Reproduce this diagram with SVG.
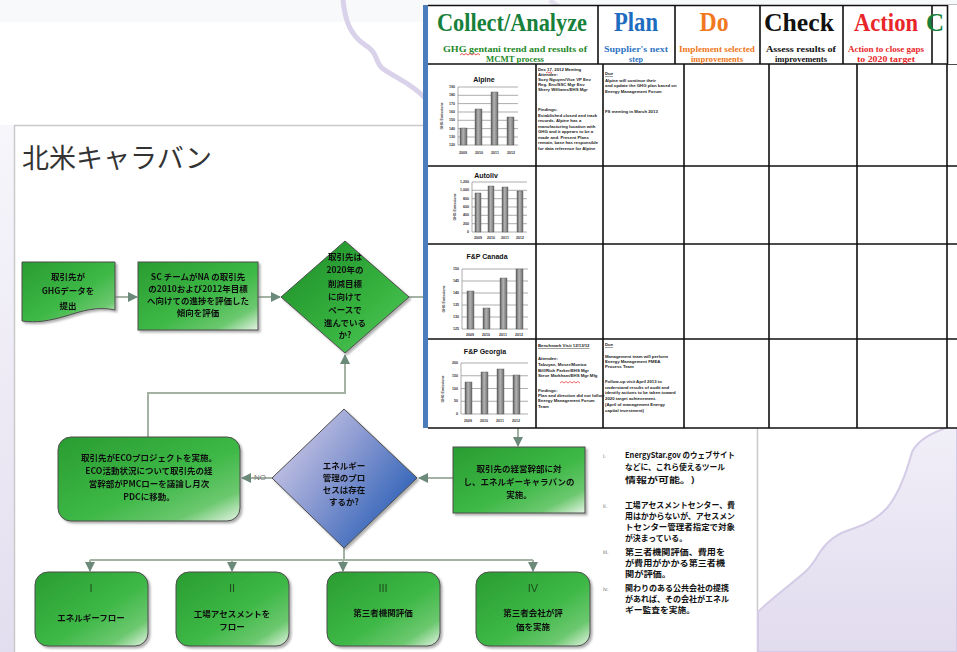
<svg xmlns="http://www.w3.org/2000/svg" width="957" height="652" viewBox="0 0 957 652">
  <defs>
    <style>
      .jp { font-family: "Noto Sans CJK JP", "Noto Sans", sans-serif; font-weight: 700; fill: #111; }
      .jpc { font-family: "Noto Sans CJK JP", "Noto Sans", sans-serif; font-weight: 700; fill: #111; text-anchor: middle; font-size: 8.5px; }
      .roman { font-family: "Liberation Sans", sans-serif; font-size: 11px; fill: #1b4d1b; text-anchor: middle; }
      .hdr { font-family: "Liberation Serif", serif; font-weight: 700; text-anchor: middle; }
      .sub { font-family: "Liberation Serif", serif; font-weight: 700; font-size: 8px; text-anchor: middle; }
      .cell { font-family: "Liberation Sans", sans-serif; font-size: 4.3px; font-weight: 700; fill: #222; }
      .ctitle { font-family: "Liberation Sans", sans-serif; font-size: 7px; font-weight: 700; fill: #111; text-anchor: middle; }
      .tick { font-family: "Liberation Sans", sans-serif; font-size: 3.6px; font-weight: 700; fill: #333; }
      .grid { stroke: #8a8a8a; stroke-width: 0.7; }
      .tbl { stroke: #111; stroke-width: 1.6; fill: none; }
      .conn { fill: none; stroke: #a3b2a3; stroke-width: 2; }
      .box { stroke: #4d4d4d; stroke-width: 1; }
      .bar { fill: url(#barFill); stroke: #555; stroke-width: 0.4; }
    </style>
    <linearGradient id="greenFill" x1="0" y1="0" x2="1" y2="1">
      <stop offset="0" stop-color="#2a9c31"/>
      <stop offset="0.55" stop-color="#3db846"/>
      <stop offset="0.82" stop-color="#6cc86f"/>
      <stop offset="1" stop-color="#e6f4e6"/>
    </linearGradient>
    <linearGradient id="greenDiamond" x1="0" y1="0" x2="1" y2="1">
      <stop offset="0" stop-color="#1e8c27"/>
      <stop offset="0.6" stop-color="#36b23f"/>
      <stop offset="1" stop-color="#57c95e"/>
    </linearGradient>
    <linearGradient id="blueDiamond" x1="0" y1="0.2" x2="1" y2="0.9">
      <stop offset="0" stop-color="#d2cde8"/>
      <stop offset="0.4" stop-color="#8c9bd2"/>
      <stop offset="1" stop-color="#1652b0"/>
    </linearGradient>
    <linearGradient id="barFill" x1="0" y1="0" x2="1" y2="0">
      <stop offset="0" stop-color="#5e5e5e"/>
      <stop offset="0.45" stop-color="#b4b4b4"/>
      <stop offset="1" stop-color="#6a6a6a"/>
    </linearGradient>
    <linearGradient id="lavender" x1="0" y1="0" x2="0" y2="1">
      <stop offset="0" stop-color="#f1eff8"/>
      <stop offset="1" stop-color="#e1dbee"/>
    </linearGradient>
    <linearGradient id="leftStrip" x1="0" y1="0" x2="0" y2="1">
      <stop offset="0" stop-color="#f7f6fb"/>
      <stop offset="1" stop-color="#e3deef"/>
    </linearGradient>
    <marker id="arr" viewBox="0 0 10 10" refX="9" refY="5" markerWidth="5" markerHeight="5" orient="auto">
      <path d="M0,0 L10,5 L0,10 Z" fill="#6c8a7a"/>
    </marker>
    <filter id="shadow" x="-10%" y="-10%" width="130%" height="130%">
      <feDropShadow dx="2" dy="2" stdDeviation="1.2" flood-color="#7a7a7a" flood-opacity="0.6"/>
    </filter>
  </defs>

  <!-- backdrop -->
  <rect width="957" height="652" fill="#ffffff"/>
  <rect x="0" y="0" width="957" height="22" fill="#f8f9fb"/>
  <rect x="0" y="125" width="15" height="527" fill="url(#leftStrip)"/>
  <path d="M343,0 C345,20 350,35 365,45 C378,52 375,62 382,68 C395,78 410,82 425,98" fill="none" stroke="#d9d2ea" stroke-width="5"/>
  <path d="M550,0 C556,6 564,10 575,14" fill="none" stroke="#d9d2ea" stroke-width="5" opacity="0.6"/>

  <!-- flowchart sheet -->
  <g id="sheet">
    <rect x="14.5" y="125.5" width="743" height="540" fill="#ffffff" stroke="#c9c9c9" stroke-width="1.5"/>
    <text x="22" y="168" font-family="Noto Sans CJK JP, sans-serif" font-size="27" fill="#333">北米キャラバン</text>
  </g>

  <!-- lower-right backdrop curve -->
  <path d="M758,612 C765,604 790,585 805,572 C812,566 815,560 820,552 C828,540 838,533 852,529 C865,525 878,518 887,508 C897,496 905,478 912,452 C918,440 930,433 957,424 L957,652 L758,652 Z" fill="url(#lavender)" stroke="#d4cbe6" stroke-width="2"/>

  <!-- connectors -->
  <g id="connectors">
    <path class="conn" d="M115,297 H137" marker-end="url(#arr)"/>
    <path class="conn" d="M258,297 H280" marker-end="url(#arr)"/>
    <path class="conn" d="M409,297 H430"/>
    <path class="conn" d="M148,437 V393 H345 V355" marker-end="url(#arr)"/>
    <path class="conn" d="M272,478 H242" marker-end="url(#arr)"/>
    <path class="conn" d="M453,478 H419" marker-end="url(#arr)"/>
    <path class="conn" d="M518,426 V446" marker-end="url(#arr)"/>
    <path class="conn" d="M344,548 V560 M90,560 H533"/>
    <path class="conn" d="M90,560 V571" marker-end="url(#arr)"/>
    <path class="conn" d="M232,560 V571" marker-end="url(#arr)"/>
    <path class="conn" d="M343,560 V571" marker-end="url(#arr)"/>
    <path class="conn" d="M533,560 V571" marker-end="url(#arr)"/>
    <text x="260" y="480" font-family="Liberation Sans, sans-serif" font-size="8" fill="#777" text-anchor="middle">NO</text>
  </g>

  <!-- flowchart nodes -->
  <g id="node-submit" filter="url(#shadow)">
    <path class="box" d="M22,262 H115 V310 C97,306 82,311 66,316 C49,321 36,323 22,321 Z" fill="url(#greenFill)"/>
    <text class="jpc" x="68" y="280">取引先が</text>
    <text class="jpc" x="68" y="294">GHGデータを</text>
    <text class="jpc" x="68" y="309">提出</text>
  </g>

  <g id="node-evaluate" filter="url(#shadow)">
    <rect class="box" x="138" y="262" width="120" height="68" fill="url(#greenFill)"/>
    <text class="jpc" x="198" y="280" font-size="7.5">SC チームがNA の取引先</text>
    <text class="jpc" x="198" y="292" font-size="7.5">の2010および2012年目標</text>
    <text class="jpc" x="198" y="304" font-size="7.5">へ向けての進捗を評価した</text>
    <text class="jpc" x="198" y="316" font-size="7.5">傾向を評価</text>
  </g>

  <g id="node-on-pace" filter="url(#shadow)">
    <polygon class="box" points="345,241 409,297 345,353 281,297" fill="url(#greenDiamond)"/>
    <text class="jpc" x="345" y="260" font-size="8.5">取引先は</text>
    <text class="jpc" x="345" y="273" font-size="8.5">2020年の</text>
    <text class="jpc" x="345" y="287" font-size="8.5">削減目標</text>
    <text class="jpc" x="345" y="300" font-size="8.5">に向けて</text>
    <text class="jpc" x="345" y="313" font-size="8.5">ペースで</text>
    <text class="jpc" x="345" y="326" font-size="8.5">進んでいる</text>
    <text class="jpc" x="345" y="338" font-size="8.5">か?</text>
  </g>

  <g id="node-eco-project" filter="url(#shadow)">
    <rect class="box" x="58" y="437" width="182" height="84" rx="13" fill="url(#greenFill)"/>
    <text class="jpc" x="149" y="461" font-size="8">取引先がECOプロジェクトを実施。</text>
    <text class="jpc" x="149" y="474" font-size="8">ECO活動状況について取引先の経</text>
    <text class="jpc" x="149" y="487" font-size="8">営幹部がPMCローを議論し月次</text>
    <text class="jpc" x="149" y="500" font-size="8">PDCに移動。</text>
  </g>

  <g id="node-energy-mgmt" filter="url(#shadow)">
    <polygon class="box" points="344,409 417,478 344,548 272,478" fill="url(#blueDiamond)"/>
    <text class="jpc" x="344" y="469" font-size="8.5">エネルギー</text>
    <text class="jpc" x="344" y="481" font-size="8.5">管理のプロ</text>
    <text class="jpc" x="344" y="493" font-size="8.5">セスは存在</text>
    <text class="jpc" x="344" y="505" font-size="8.5">するか?</text>
  </g>

  <g id="node-caravan" filter="url(#shadow)">
    <rect class="box" x="453" y="447" width="132" height="66" fill="url(#greenFill)"/>
    <text class="jpc" x="519" y="472" font-size="8">取引先の経営幹部に対</text>
    <text class="jpc" x="519" y="485" font-size="8">し、エネルギーキャラバンの</text>
    <text class="jpc" x="519" y="498" font-size="8">実施。</text>
  </g>

  <g id="node-i" filter="url(#shadow)">
    <rect class="box" x="35" y="572" width="113" height="74" rx="13" fill="url(#greenFill)"/>
    <text class="roman" x="91" y="592">I</text>
    <text class="jpc" x="91" y="621" font-size="8">エネルギーフロー</text>
  </g>
  <g id="node-ii" filter="url(#shadow)">
    <rect class="box" x="176" y="572" width="113" height="74" rx="13" fill="url(#greenFill)"/>
    <text class="roman" x="232" y="592">II</text>
    <text class="jpc" x="232" y="617" font-size="8">工場アセスメントを</text>
    <text class="jpc" x="232" y="630" font-size="8">フロー</text>
  </g>
  <g id="node-iii" filter="url(#shadow)">
    <rect class="box" x="327" y="572" width="113" height="74" rx="13" fill="url(#greenFill)"/>
    <text class="roman" x="383" y="592">III</text>
    <text class="jpc" x="383" y="616" font-size="8">第三者機関評価</text>
  </g>
  <g id="node-iv" filter="url(#shadow)">
    <rect class="box" x="476" y="572" width="114" height="74" rx="13" fill="url(#greenFill)"/>
    <text class="roman" x="533" y="592">IV</text>
    <text class="jpc" x="533" y="616" font-size="8">第三者会社が評</text>
    <text class="jpc" x="533" y="630" font-size="8">価を実施</text>
  </g>

  <!-- side notes -->
  <g id="notes" font-family="Liberation Sans, sans-serif">
    <text x="603" y="458" font-size="6" fill="#777">i.</text>
    <text x="603" y="508" font-size="6" fill="#777">ii.</text>
    <text x="603" y="554" font-size="6" fill="#777">iii.</text>
    <text x="603" y="591" font-size="6" fill="#777">iv.</text>
    <text class="jp" x="625" y="458" font-size="8" textLength="110" lengthAdjust="spacingAndGlyphs">EnergyStar.gov のウェブサイト</text>
    <text class="jp" x="625" y="470" font-size="8" textLength="100" lengthAdjust="spacingAndGlyphs">などに、これら使えるツール</text>
    <text class="jp" x="625" y="483" font-size="8" textLength="70" lengthAdjust="spacingAndGlyphs">情報が可能。)</text>
    <text class="jp" x="625" y="508" font-size="8" textLength="110" lengthAdjust="spacingAndGlyphs">工場アセスメントセンター、費</text>
    <text class="jp" x="625" y="519" font-size="8" textLength="110" lengthAdjust="spacingAndGlyphs">用はかからないが、アセスメン</text>
    <text class="jp" x="625" y="530" font-size="8" textLength="110" lengthAdjust="spacingAndGlyphs">トセンター管理者指定で対象</text>
    <text class="jp" x="625" y="541" font-size="8" textLength="62" lengthAdjust="spacingAndGlyphs">が決まっている。</text>
    <text class="jp" x="625" y="555" font-size="8" textLength="100" lengthAdjust="spacingAndGlyphs">第三者機関評価、費用を</text>
    <text class="jp" x="625" y="566" font-size="8" textLength="100" lengthAdjust="spacingAndGlyphs">が費用がかかる第三者機</text>
    <text class="jp" x="625" y="577" font-size="8" textLength="46" lengthAdjust="spacingAndGlyphs">関が評価。</text>
    <text class="jp" x="625" y="591" font-size="8" textLength="104" lengthAdjust="spacingAndGlyphs">関わりのある公共会社の提携</text>
    <text class="jp" x="625" y="602" font-size="8" textLength="104" lengthAdjust="spacingAndGlyphs">があれば、その会社がエネル</text>
    <text class="jp" x="625" y="613" font-size="8" textLength="70" lengthAdjust="spacingAndGlyphs">ギー監査を実施。</text>
  </g>

  <!-- PDCA supplier table -->
  <g id="pdca-table">
    <rect x="424" y="5" width="533" height="423" fill="#ffffff"/>
    <rect x="423" y="5" width="5" height="423" fill="#4d7cbc"/>
    <!-- rules -->
    <path class="tbl" d="M428,5.5 H957 M428,64 H957 M428,166 H957 M428,244 H957 M428,339 H957 M428,428 H957"/>
    <path class="tbl" d="M598,5 V64 M675,5 V64 M760,5 V64 M843,5 V64 M932,5 V64"/>
    <path class="tbl" d="M536,64 V428 M603,64 V428 M684,64 V428 M769,64 V428 M857,64 V428 M947,64 V428"/>

    <!-- headings -->
    <text class="hdr" x="512" y="31" font-size="26" fill="#17803a" textLength="150" lengthAdjust="spacingAndGlyphs">Collect/Analyze</text>
    <text class="sub" x="515" y="52" fill="#1f8a2a" textLength="144" lengthAdjust="spacingAndGlyphs">GHG gentani trend and results of</text>
    <path d="M460,55 l2,-1.5 l2,1.5 l2,-1.5 l2,1.5 l2,-1.5 l2,1.5 l2,-1.5 l2,1.5 l2,-1.5 l2,1.5" fill="none" stroke="#e0282a" stroke-width="0.8"/>
    <text class="sub" x="515" y="62" fill="#1f8a2a" textLength="58" lengthAdjust="spacingAndGlyphs">MCMT process</text>

    <text class="hdr" x="636" y="31" font-size="27" fill="#1e6cc0" textLength="44" lengthAdjust="spacingAndGlyphs">Plan</text>
    <text class="sub" x="636" y="52" fill="#2f74c4" textLength="64" lengthAdjust="spacingAndGlyphs">Supplier's next</text>
    <text class="sub" x="636" y="62" fill="#2f74c4">step</text>

    <text class="hdr" x="714" y="31" font-size="27" fill="#f07820" textLength="29" lengthAdjust="spacingAndGlyphs">Do</text>
    <text class="sub" x="717" y="52" fill="#f07820" textLength="76" lengthAdjust="spacingAndGlyphs">Implement selected</text>
    <text class="sub" x="717" y="62" fill="#f07820" textLength="52" lengthAdjust="spacingAndGlyphs">improvements</text>

    <text class="hdr" x="799" y="31" font-size="25" fill="#111" textLength="70" lengthAdjust="spacingAndGlyphs">Check</text>
    <text class="sub" x="801" y="52" fill="#111" textLength="70" lengthAdjust="spacingAndGlyphs">Assess results of</text>
    <text class="sub" x="801" y="62" fill="#111" textLength="52" lengthAdjust="spacingAndGlyphs">improvements</text>

    <text class="hdr" x="886" y="31" font-size="25" fill="#e8262a" textLength="64" lengthAdjust="spacingAndGlyphs">Action</text>
    <text class="sub" x="886" y="52" fill="#e8262a" textLength="76" lengthAdjust="spacingAndGlyphs">Action to close gaps</text>
    <text class="sub" x="886" y="62" fill="#e8262a" textLength="58" lengthAdjust="spacingAndGlyphs">to 2020 target</text>

    <text class="hdr" x="935" y="31" font-size="25" fill="#17803a" text-anchor="start">C</text>
    <rect x="948" y="5" width="9" height="59" fill="#ffffff"/>
    <path class="tbl" d="M947.5,5 V64"/>

    <!-- Alpine chart -->
    <text class="ctitle" x="484" y="82">Alpine</text>
    <g class="grid">
      <path d="M458,87 H518 M458,95.3 H518 M458,103.6 H518 M458,112 H518 M458,120.3 H518 M458,128.6 H518 M458,137 H518 M458,145 H518 M458,87 V145"/>
    </g>
    <g class="tick" text-anchor="end">
      <text x="455" y="88">190</text><text x="455" y="96.3">180</text><text x="455" y="104.6">170</text><text x="455" y="113">160</text>
      <text x="455" y="121.3">150</text><text x="455" y="129.6">140</text><text x="455" y="138">130</text><text x="455" y="146">120</text>
    </g>
    <rect class="bar" x="460" y="128" width="7" height="17"/>
    <rect class="bar" x="475" y="109" width="7" height="36"/>
    <rect class="bar" x="491" y="92" width="7" height="53"/>
    <rect class="bar" x="507" y="117" width="7" height="28"/>
    <g class="tick" text-anchor="middle">
      <text x="463" y="154">2009</text><text x="479" y="154">2010</text><text x="495" y="154">2011</text><text x="511" y="154">2012</text>
    </g>
    <text class="tick" transform="translate(443,116) rotate(-90)" text-anchor="middle">GHG Emissions</text>

    <!-- Autoliv chart -->
    <text class="ctitle" x="486" y="178">Autoliv</text>
    <g class="grid">
      <path d="M472,182 H527 M472,190.3 H527 M472,198.7 H527 M472,207 H527 M472,215.3 H527 M472,223.7 H527 M472,232 H527 M472,182 V232"/>
    </g>
    <g class="tick" text-anchor="end">
      <text x="469" y="183">1,200</text><text x="469" y="191.3">1,000</text><text x="469" y="199.7">800</text><text x="469" y="208">600</text>
      <text x="469" y="216.3">400</text><text x="469" y="224.7">200</text><text x="469" y="233">0</text>
    </g>
    <rect class="bar" x="475" y="193" width="6" height="39"/>
    <rect class="bar" x="488" y="186" width="6" height="46"/>
    <rect class="bar" x="502" y="187" width="6" height="45"/>
    <rect class="bar" x="517" y="191" width="6" height="41"/>
    <g class="tick" text-anchor="middle">
      <text x="478" y="239">2009</text><text x="491" y="239">2010</text><text x="505" y="239">2011</text><text x="520" y="239">2012</text>
    </g>
    <text class="tick" transform="translate(456,207) rotate(-90)" text-anchor="middle">GHG Emissions</text>

    <!-- F&P Canada chart -->
    <text class="ctitle" x="487" y="259">F&amp;P Canada</text>
    <g class="grid">
      <path d="M462,269 H528 M462,281 H528 M462,293 H528 M462,305 H528 M462,317 H528 M462,329 H528 M462,269 V329"/>
    </g>
    <g class="tick" text-anchor="end">
      <text x="459" y="270">150</text><text x="459" y="282">145</text><text x="459" y="294">140</text>
      <text x="459" y="306">135</text><text x="459" y="318">130</text><text x="459" y="330">125</text>
    </g>
    <rect class="bar" x="467" y="291" width="7" height="38"/>
    <rect class="bar" x="483" y="308" width="7" height="21"/>
    <rect class="bar" x="500" y="278" width="7" height="51"/>
    <rect class="bar" x="516" y="269" width="7" height="60"/>
    <g class="tick" text-anchor="middle">
      <text x="470" y="336">2009</text><text x="486" y="336">2010</text><text x="503" y="336">2011</text><text x="519" y="336">2012</text>
    </g>
    <text class="tick" transform="translate(445,299) rotate(-90)" text-anchor="middle">GHG Emissions</text>

    <!-- F&P Georgia chart -->
    <text class="ctitle" x="485" y="354">F&amp;P Georgia</text>
    <g class="grid">
      <path d="M461,363 H528 M461,375.75 H528 M461,388.5 H528 M461,401.25 H528 M461,414 H528 M461,363 V414"/>
    </g>
    <g class="tick" text-anchor="end">
      <text x="458" y="364">200</text><text x="458" y="376.75">150</text><text x="458" y="389.5">100</text>
      <text x="458" y="402.25">50</text><text x="458" y="415">0</text>
    </g>
    <rect class="bar" x="465" y="382" width="7" height="32"/>
    <rect class="bar" x="481" y="372" width="7" height="42"/>
    <rect class="bar" x="497" y="369" width="7" height="45"/>
    <rect class="bar" x="513" y="375" width="7" height="39"/>
    <g class="tick" text-anchor="middle">
      <text x="468" y="422">2009</text><text x="484" y="422">2010</text><text x="500" y="422">2011</text><text x="516" y="422">2012</text>
    </g>
    <text class="tick" transform="translate(444,389) rotate(-90)" text-anchor="middle">GHG Emissions</text>

    <!-- cell notes -->
    <g class="cell">
      <text x="538" y="71">Dec 17, 2012 Meeting</text>
      <text x="538" y="76">Attendee:</text>
      <text x="538" y="81">Suzy Nguyen/Vice VP Env</text>
      <text x="538" y="86">Reg. Env/SSC Mgr Env</text>
      <text x="538" y="91">Shery Williams/EHS Mgr</text>
      <text x="538" y="111">Findings:</text>
      <text x="538" y="117">Established closed and track</text>
      <text x="538" y="122">records. Alpine has a</text>
      <text x="538" y="128">manufacturing location with</text>
      <text x="538" y="133">GHG and it appears to be a</text>
      <text x="538" y="139">made and. Present Plans</text>
      <text x="538" y="144">remain, base has responsible</text>
      <text x="538" y="150">for data reference for Alpine</text>

      <text x="605" y="75" text-decoration="underline">Due</text>
      <text x="605" y="82">Alpine will continue their</text>
      <text x="605" y="87">and update the GHG plan based on</text>
      <text x="605" y="93">Energy Management Forum</text>
      <text x="605" y="113">FS meeting in March 2013</text>

      <text x="538" y="347" text-decoration="underline">Benchmark Visit 12/13/12</text>
      <text x="538" y="360">Attendee:</text>
      <text x="538" y="366">Tabuyan, Moser/Monica</text>
      <text x="538" y="372">Bill/Rich Parker/EHS Mgr</text>
      <text x="538" y="377">Steve Markham/EHS Mgr Mfg</text>
      <text x="538" y="392">Findings:</text>
      <text x="538" y="397">Plan and direction did not follow</text>
      <text x="538" y="402">Energy Management Forum</text>
      <text x="538" y="408">Team</text>

      <text x="605" y="346" text-decoration="underline">Due</text>
      <text x="605" y="358">Management team will perform</text>
      <text x="605" y="363">Energy Management FMEA</text>
      <text x="605" y="368">Process Team</text>
      <text x="605" y="383">Follow-up visit April 2013 to</text>
      <text x="605" y="389">understand results of audit and</text>
      <text x="605" y="394">identify actions to be taken toward</text>
      <text x="605" y="400">2020 target achievement.</text>
      <text x="605" y="406">(April of management Energy</text>
      <text x="605" y="412">capital investment)</text>
    </g>
    <path d="M546,73 l1.5,-1 l1.5,1 l1.5,-1 l1.5,1 M560,383 l2,-1.5 l2,1.5 l2,-1.5 l2,1.5 l2,-1.5 l2,1.5 l2,-1.5 l2,1.5 l2,-1.5 l2,1.5" fill="none" stroke="#e0282a" stroke-width="0.7"/>
  </g>
</svg>
